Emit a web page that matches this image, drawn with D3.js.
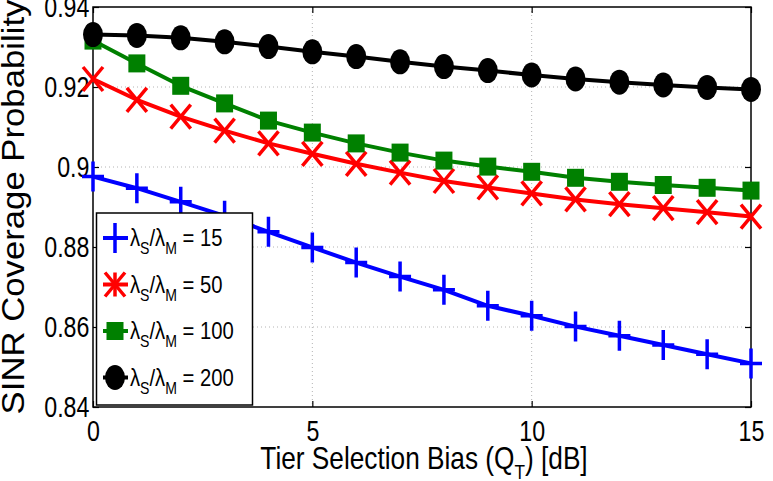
<!DOCTYPE html>
<html><head><meta charset="utf-8">
<script src="https://cdn.jsdelivr.net/npm/d3@7"></script>
<style>html,body{margin:0;padding:0;background:#fff;} svg{display:block;}</style>
</head><body>
<svg id="chart" width="773" height="481"></svg>
<script>
// ---- data ----
const biasDb = [0,1,2,3,4,5,6,7,8,9,10,11,12,13,14,15];
const cov15  = [0.8976,0.8947,0.8913,0.8878,0.8838,0.8799,0.8761,0.8726,0.8693,0.8653,0.8628,0.8601,0.8578,0.8555,0.8532,0.8509];
const cov50  = [0.9220,0.9168,0.9126,0.9091,0.9059,0.9033,0.9008,0.8986,0.8965,0.8949,0.8934,0.8919,0.8907,0.8897,0.8887,0.8876];
const cov100 = [0.9316,0.9259,0.9203,0.9159,0.9116,0.9086,0.9059,0.9036,0.9016,0.9001,0.8988,0.8973,0.8963,0.8955,0.8948,0.8941];
const cov200 = [0.9331,0.9329,0.9323,0.9313,0.9301,0.9288,0.9276,0.9263,0.9251,0.9241,0.9230,0.9220,0.9212,0.9205,0.9199,0.9194];
const ratioLabels = ["15","50","100","200"];
const xTickValues = [0,5,10,15];
const yTickValues = [0.84,0.86,0.88,0.9,0.92,0.94];
const yTickLabels = ["0.84","0.86","0.88","0.9","0.92","0.94"];
const xTitle = ["Tier Selection Bias (Q", "T", ") [dB]"];
const yTitle = "SINR Coverage Probability";

// ---- setup ----
const FONT = "'Liberation Sans', Arial, Helvetica, sans-serif";
const svg = d3.select("#chart");
const L = 93, R = 751, T = 7, B = 407;
const x = d3.scaleLinear().domain([0,15]).range([L,R]);
const y = d3.scaleLinear().domain([0.84,0.94]).range([B,T]);

// grid
const grid = svg.append("g").attr("stroke","#b4b4b4").attr("stroke-width",1).attr("stroke-dasharray","1,3");
grid.selectAll("line.gx").data(xTickValues.slice(1,-1)).join("line")
  .attr("x1",d=>x(d)).attr("x2",d=>x(d)).attr("y1",T).attr("y2",B);
grid.selectAll("line.gy").data(yTickValues.slice(1,-1)).join("line")
  .attr("x1",L).attr("x2",R).attr("y1",d=>y(d)).attr("y2",d=>y(d));

// axes
const SX = 0.8;
const gx = svg.append("g").attr("transform",`translate(0,${B})`)
  .call(d3.axisBottom(x).tickValues(xTickValues).tickSize(-6).tickPadding(13).tickFormat(d=>String(d)));
const gy = svg.append("g").attr("transform",`translate(${L},0)`)
  .call(d3.axisLeft(y).tickValues(yTickValues).tickSize(-6).tickPadding(4.5).tickFormat((d,i)=>yTickLabels[i]));
const gt = svg.append("g").attr("transform",`translate(0,${T})`)
  .call(d3.axisTop(x).tickValues(xTickValues).tickSize(-6).tickFormat(""));
const gr = svg.append("g").attr("transform",`translate(${R},0)`)
  .call(d3.axisRight(y).tickValues(yTickValues).tickSize(-6).tickFormat(""));
[gx,gy,gt,gr].forEach(g=>{
  g.select(".domain").remove();
  g.selectAll(".tick line").attr("stroke","#000").attr("stroke-width",1.2);
  g.selectAll(".tick text").attr("fill","#000").style("font-family",FONT).style("font-size","29px")
    .attr("transform",`scale(${SX},1)`);
});
svg.append("rect").attr("x",L).attr("y",T).attr("width",R-L).attr("height",B-T)
  .attr("fill","none").attr("stroke","#000").attr("stroke-width",1.5);

// axis titles
const xt = svg.append("text").attr("transform",`translate(${(L+R)/2+2},469) scale(0.82,1)`)
  .attr("text-anchor","middle").style("font-family",FONT).style("font-size","32px").attr("fill","#000");
xt.append("tspan").text(xTitle[0]);
xt.append("tspan").attr("dy",10).style("font-size","21px").text(xTitle[1]);
xt.append("tspan").attr("dy",-10).text(xTitle[2]);

svg.append("text").attr("transform",`translate(24,${(T+B)/2}) rotate(-90) scale(1.12,1)`)
  .attr("text-anchor","middle").style("font-family",FONT).style("font-size","31px").attr("fill","#000")
  .text(yTitle);

// markers
function plusPath(s){ return `M${-11*s},0H${11*s}M0,${-15*s}V${15*s}`; }
function crossPath(s){ return `M${-10*s},${-12*s}L${10*s},${12*s}M${-10*s},${12*s}L${10*s},${-12*s}`; }
const series = [
  {vals:cov15,  color:"#0000ff", kind:"plus"},
  {vals:cov50,  color:"#ff0000", kind:"cross"},
  {vals:cov100, color:"#008000", kind:"square"},
  {vals:cov200, color:"#000000", kind:"circle"}
];
function drawMarker(g, kind, color){
  if(kind==="plus") g.append("path").attr("d",plusPath(1)).attr("stroke",color).attr("stroke-width",3.5).attr("fill","none");
  else if(kind==="cross") g.append("path").attr("d",crossPath(1)).attr("stroke",color).attr("stroke-width",3.5).attr("fill","none");
  else if(kind==="square") g.append("rect").attr("x",-8.5).attr("y",-9).attr("width",17).attr("height",18).attr("fill",color);
  else g.append("ellipse").attr("rx",10).attr("ry",12.5).attr("fill",color);
}
const line = d3.line().x((d,i)=>x(biasDb[i])).y(d=>y(d));
series.forEach(s=>{
  svg.append("path").datum(s.vals).attr("d",line).attr("fill","none")
    .attr("stroke",s.color).attr("stroke-width",4).attr("stroke-linejoin","round");
  const mg = svg.append("g");
  s.vals.forEach((v,i)=>{
    const g = mg.append("g").attr("transform",`translate(${x(biasDb[i])},${y(v)})`);
    drawMarker(g, s.kind, s.color);
  });
});

// legend
const lg = svg.append("g");
lg.append("rect").attr("x",96.5).attr("y",213).attr("width",156).attr("height",192)
  .attr("fill","#fff").attr("stroke","#000").attr("stroke-width",1.5);
series.forEach((s,i)=>{
  const ry = 238 + i*46.5;
  lg.append("line").attr("x1",103).attr("x2",128).attr("y1",ry).attr("y2",ry)
    .attr("stroke",s.color).attr("stroke-width",4);
  const g = lg.append("g").attr("transform",`translate(115,${ry})`);
  drawMarker(g, s.kind, s.color);
  if(s.kind==="cross") g.append("path").attr("d","M0,-12V12").attr("stroke",s.color).attr("stroke-width",3.5);
  const t = lg.append("text").attr("transform",`translate(130,${ry+8}) scale(0.88,1)`)
    .style("font-family",FONT).style("font-size","23px").attr("fill","#000");
  t.append("tspan").text("λ");
  t.append("tspan").attr("dy",8).style("font-size","16px").text("S");
  t.append("tspan").attr("dy",-8).text("/λ");
  t.append("tspan").attr("dy",8).style("font-size","16px").text("M");
  t.append("tspan").attr("dy",-8).text(" = " + ratioLabels[i]);
});
</script>
</body></html>
